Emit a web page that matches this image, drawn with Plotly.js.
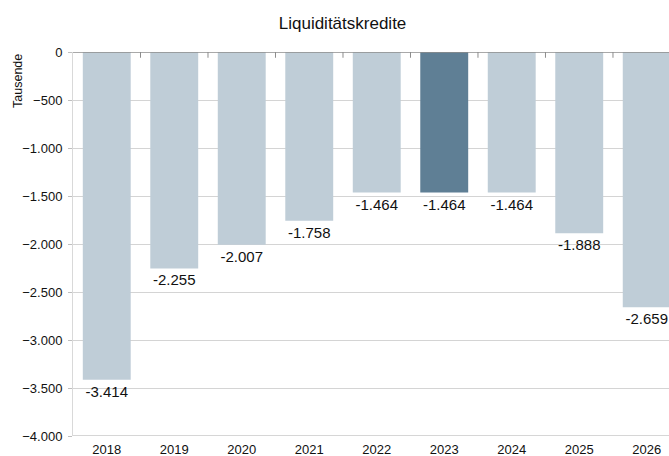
<!DOCTYPE html>
<html><head><meta charset="utf-8">
<script src="https://cdn.plot.ly/plotly-3.0.1.min.js"></script>
<style>html,body{margin:0;padding:0;overflow:hidden;background:#fff}</style>
</head><body>
<div id="chart" style="width:669px;height:456px"></div>
<script>
const years = ['2018','2019','2020','2021','2022','2023','2024','2025','2026'];
const values = [-3414, -2255, -2007, -1758, -1464, -1464, -1464, -1888, -2659];
const highlightYear = '2023';
const yTicks = [0, -500, -1000, -1500, -2000, -2500, -3000, -3500, -4000];

const colors = years.map(y => y === highlightYear ? '#5f7f95' : '#bfcdd7');

const trace = {
  type: 'bar',
  x: years,
  y: values,
  marker: {color: colors, line: {width: 0}},
  width: 0.71,
  texttemplate: '%{y:,.0f}',
  textposition: 'outside',
  cliponaxis: false,
  textfont: {family: 'Liberation Sans, Arial, sans-serif', size: 15, color: '#111'},
  hoverinfo: 'none'
};

const layout = {
  width: 669, height: 456,
  margin: {l: 73, r: 0, t: 52, b: 20},
  separators: ',.',
  paper_bgcolor: '#fff', plot_bgcolor: '#fff',
  font: {family: 'Liberation Sans, Arial, sans-serif', size: 13, color: '#111'},
  title: {text: 'Liquiditätskredite', x: 0.512, xanchor: 'center', y: 0.95, yanchor: 'middle',
          font: {size: 17, color: '#111'}},
  showlegend: false,
  xaxis: {
    type: 'category',
    range: [-0.5, 8.33],
    showgrid: false, zeroline: false,
    showline: false,
    ticks: '', tickfont: {size: 13},
    ticklabelstandoff: 4,
    fixedrange: true
  },
  yaxis: {
    range: [-4000, 0],
    tickvals: yTicks,
    separatethousands: true,
    tickformat: ',d',
    showgrid: true, gridcolor: '#d4d4d4', gridwidth: 1,
    zeroline: false,
    showline: true, linecolor: '#d9d9d9', linewidth: 1,
    ticks: 'outside', ticklen: 4, tickcolor: '#bfbfbf',
    ticklabelstandoff: 3,
    tickfont: {size: 13},
    fixedrange: true
  },
  shapes: [
    {type: 'line', xref: 'paper', yref: 'y', x0: 0, x1: 1, y0: 0, y1: 0,
     line: {color: '#8c8c8c', width: 1.5}},
    {type: 'line', xref: 'paper', yref: 'y', x0: 0, x1: 1, y0: -4000, y1: -4000,
     line: {color: '#c8c8c8', width: 1.5}}
  ].concat(years.slice(0, -1).map((y, i) => ({
    type: 'line', xref: 'x', yref: 'paper', x0: i + 0.5, x1: i + 0.5, y0: 1, y1: 0.985,
    line: {color: '#8c8c8c', width: 1}
  }))),
  annotations: [
    {text: 'Tausende', xref: 'paper', yref: 'paper', x: -0.092, y: 0.925, textangle: -90,
     showarrow: false, xanchor: 'center', yanchor: 'middle', font: {size: 12.5, color: '#111'}}
  ]
};

Plotly.newPlot('chart', [trace], layout, {displayModeBar: false, staticPlot: true});
</script>
</body></html>
